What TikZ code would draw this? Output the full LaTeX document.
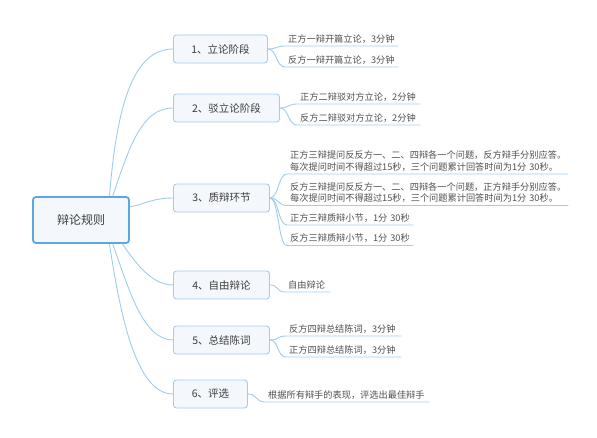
\documentclass[tikz,border=0pt]{standalone}
\usepackage{fontspec}
\newfontfamily\cjk{Noto Sans CJK SC}
\definecolor{lineblue}{HTML}{9FCDEE}
\definecolor{boxfill}{HTML}{F4F8FD}
\definecolor{rootblue}{HTML}{5BA7DF}
\definecolor{txt}{HTML}{3C3C3C}
\definecolor{leaftxt}{HTML}{505050}
\begin{document}
\begin{tikzpicture}[x=1pt,y=-1pt,
  conn/.style={draw=lineblue, line width=0.9pt},
  branchbox/.style={draw=lineblue, fill=boxfill, line width=0.9pt, rounded corners=3pt, minimum height=28pt, inner sep=0pt, font=\cjk\fontsize{10.5}{12}\selectfont, text=txt, anchor=west},
  rootbox/.style={draw=rootblue, fill=boxfill, line width=1.8pt, rounded corners=3pt, minimum width=96pt, minimum height=46pt, inner sep=0pt, font=\cjk\fontsize{12}{14}\selectfont, text=txt},
  leaf/.style={anchor=south west, inner xsep=3pt, inner ysep=2.5pt, font=\cjk\fontsize{9.2}{11.7}\selectfont, text=leaftxt, align=left},
]
\useasboundingbox[fill=white] (0,0) rectangle (597,437);

\node[rootbox] (root) at (81,220) {辩论规则};

\node[branchbox, minimum width=94pt] (b1) at (173,49) {1、立论阶段};
\node[branchbox, minimum width=106pt] (b2) at (173,108) {2、驳立论阶段};
\node[branchbox, minimum width=96pt] (b3) at (173,198) {3、质辩环节};
\node[branchbox, minimum width=96pt] (b4) at (173,285) {4、自由辩论};
\node[branchbox, minimum width=96pt] (b5) at (173,340) {5、总结陈词};
\node[branchbox, minimum width=74pt] (b6) at (173,394) {6、评选};

\draw[conn] (root.40) .. controls +(7,-87) and +(-41,0) .. (b1.west);
\draw[conn] (root.37) .. controls +(16,-47) and +(-32,0) .. (b2.west);
\draw[conn] (root.15) .. controls +(15,-3) and +(-20,0) .. (b3.west);
\draw[conn] (root.-30) .. controls +(15,22) and +(-20,0) .. (b4.west);
\draw[conn] (root.-37) .. controls +(16,45) and +(-30,0) .. (b5.west);
\draw[conn] (root.-40) .. controls +(12,80) and +(-35,0) .. (b6.west);

\node[leaf, text width=107pt] (l1a) at (285,46) {正方一辩开篇立论，3分钟};
\node[leaf, text width=107pt] (l1b) at (285,67) {反方一辩开篇立论，3分钟};
\node[leaf, text width=117pt] (l2a) at (297,104) {正方二辩驳对方立论，2分钟};
\node[leaf, text width=117pt] (l2b) at (297,125) {反方二辩驳对方立论，2分钟};
\node[leaf, text width=275pt] (l3a) at (287,174) {正方三辩提问反反方一、二、四辩各一个问题，反方辩手分别应答。\\每次提问时间不得超过15秒，三个问题累计回答时间为1分~30秒。};
\node[leaf, text width=275pt] (l3b) at (287,205.5) {反方三辩提问反反方一、二、四辩各一个问题，正方辩手分别应答。\\每次提问时间不得超过15秒，三个问题累计回答时间为1分~30秒。};
\node[leaf, text width=120pt] (l3c) at (287,225) {正方三辩质辩小节，1分~30秒};
\node[leaf, text width=120pt] (l3d) at (287,245.5) {反方三辩质辩小节，1分~30秒};
\node[leaf, text width=39pt] (l4a) at (285,292) {自由辩论};
\node[leaf, text width=109pt] (l5a) at (286,336) {反方四辩总结陈词，3分钟};
\node[leaf, text width=109pt] (l5b) at (286,357) {正方四辩总结陈词，3分钟};
\node[leaf, text width=158pt] (l6a) at (265,402) {根据所有辩手的表现，评选出最佳辩手};

\foreach \b/\l in {b1/l1a,b1/l1b,b2/l2a,b2/l2b,b3/l3a,b3/l3b,b3/l3c,b3/l3d,b4/l4a,b5/l5a,b5/l5b,b6/l6a}{
  \draw[conn] (\b.east) .. controls +(9,0) and +(-9,0) .. (\l.south west) -- (\l.south east);
}
\end{tikzpicture}
\end{document}
